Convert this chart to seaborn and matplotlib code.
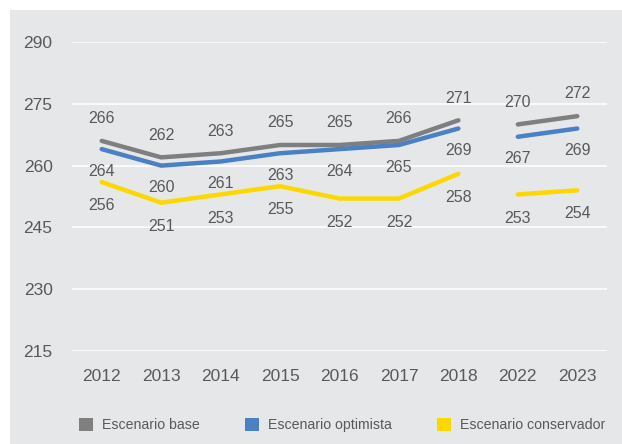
import matplotlib
matplotlib.use("Agg")
import matplotlib.pyplot as plt
from matplotlib.patches import Rectangle, Patch
import seaborn as sns
import pandas as pd

years = ["2012", "2013", "2014", "2015", "2016", "2017", "2018", "2022", "2023"]
base = [266, 262, 263, 265, 265, 266, 271, 270, 272]
optimista = [264, 260, 261, 263, 264, 265, 269, 267, 269]
conservador = [256, 251, 253, 255, 252, 252, 258, 253, 254]
segment = [0, 0, 0, 0, 0, 0, 0, 1, 1]
series_names = ["Escenario base", "Escenario optimista", "Escenario conservador"]
yticks = [215, 230, 245, 260, 275, 290]

colors = {"Escenario base": "#7f7f80", "Escenario optimista": "#4a80c4",
          "Escenario conservador": "#fcd800"}
label_offsets = {"Escenario base": 16, "Escenario optimista": -16,
                 "Escenario conservador": -17}

rows = []
for name, vals in zip(series_names, [base, optimista, conservador]):
    for i, (y, v, s) in enumerate(zip(years, vals, segment)):
        rows.append({"pos": i, "year": y, "value": v, "Escenario": name, "segment": s})
df = pd.DataFrame(rows)

sns.set_theme(style="white")
plt.rcParams["font.family"] = ["Liberation Sans", "DejaVu Sans"]
text_color = "#58595b"

fig = plt.figure(figsize=(6.22, 4.44), dpi=100)
bg = Rectangle((10 / 622, 0), 1 - 10 / 622, 1 - 10 / 444,
               transform=fig.transFigure, facecolor="#e6e7e9",
               edgecolor="none", zorder=-10)
fig.add_artist(bg)
ax = fig.add_axes([72 / 622, 1 - 351 / 444, (607 - 72) / 622, (351 - 42) / 444])
ax.set_facecolor("none")
ax.set_zorder(1)

sns.lineplot(data=df, x="pos", y="value", hue="Escenario", units="segment",
             estimator=None, palette=colors, linewidth=3.2, ax=ax, legend=False,
             zorder=3)

for name in series_names:
    sub = df[df["Escenario"] == name]
    for _, r in sub.iterrows():
        ax.annotate(str(r["value"]), (r["pos"], r["value"]),
                    xytext=(0, label_offsets[name]), textcoords="offset points",
                    ha="center", va="center", fontsize=11.5, color=text_color,
                    zorder=4)

ax.set_xlim(-0.5, len(years) - 0.5)
ax.set_ylim(215, 290)
ax.set_yticks(yticks)
ax.set_xticks(range(len(years)))
ax.set_xticklabels(years)
ax.grid(axis="y", color="white", linewidth=1.2, zorder=1)
ax.grid(axis="x", visible=False)
for sp in ax.spines.values():
    sp.set_visible(False)
ax.tick_params(axis="both", length=0, labelsize=12.5, colors=text_color)
ax.tick_params(axis="y", pad=14)
ax.tick_params(axis="x", pad=13)
ax.set_xlabel("")
ax.set_ylabel("")

handles = [Patch(facecolor=colors[n], edgecolor="none") for n in series_names]
leg = fig.legend(handles, series_names, loc="center", ncol=3,
                 bbox_to_anchor=(342 / 622, 1 - 425 / 444), frameon=False,
                 fontsize=10.2, handlelength=1.0, handleheight=1.0,
                 handletextpad=0.6, columnspacing=3.2)
for t in leg.get_texts():
    t.set_color(text_color)

fig.savefig("out.png", dpi=100)
